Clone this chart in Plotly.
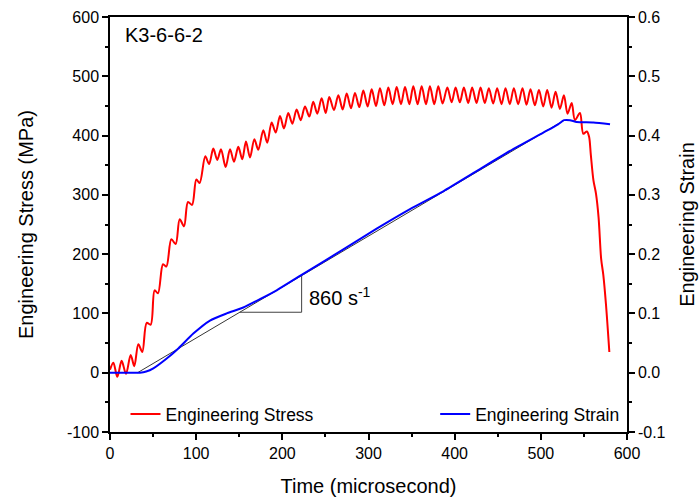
import plotly.graph_objects as go

# Engineering stress history (time in microseconds, stress in MPa)
stress_time = [0, 3.9, 8.5, 13.5, 18.6, 24, 28.2, 32.9, 37.5, 42.6, 47.2, 51.8, 55.7,
               61.5, 65.4, 71.2, 76.2, 80.9, 85.9, 90.5, 95.2, 100.2, 104, 110.6, 115,
               119.9, 124.5, 128.8, 134.2, 139.3, 143.9, 148.9, 153.5, 157.8, 162.5,
               167.5, 172.1, 177.9, 182.5, 187.6, 192.3, 197.3, 201.9, 206.9, 211.6,
               216.6, 221.3, 226.3, 231.3, 235.9, 240.6, 245.6, 250.3, 254.5, 259.9,
               265, 270, 274.7, 279.7, 284.3, 289.3, 294, 299, 303.7, 308.7, 313.3,
               318.3, 323, 328, 332.7, 337.7, 342.4, 347.4, 352, 357, 361.7, 366.7,
               371.3, 376.3, 381, 386, 391.5, 396.5, 401.1, 406, 410.7, 415.7, 420.3,
               425.4, 430, 435, 439.7, 444.7, 449.3, 454.4, 459, 464, 468.7, 473.7,
               478.7, 483.4, 488, 493.1, 497.8, 502.8, 507.4, 512.5, 517.1, 522.1,
               526.8, 531, 535.8, 539.6, 545.4, 549.3, 553.5, 556, 558, 561, 564, 567,
               570, 572.5, 575.6, 579.5]
stress_mpa = [5, 17, -7, 20, -2, 30, 11, 48, 35, 84, 81, 139, 134,
              183, 179, 225, 217, 259, 247, 288, 283, 326, 320, 365, 352,
              378, 359, 377, 347, 377, 356, 381, 360, 390, 363,
              394, 376, 409, 388, 422, 405, 433, 412, 438, 420,
              444, 426, 449, 432, 457, 437, 463, 438, 465, 443,
              468, 444, 471, 446, 472, 448, 476, 449, 478, 450, 480,
              451, 481, 453, 482, 453, 482, 453, 483, 453, 483, 453,
              483, 453, 483, 454, 481, 456, 481, 456, 481, 455, 481,
              455, 481, 455, 480, 454, 480, 453, 480, 453, 480, 453,
              480, 452, 478, 451, 477, 449, 477, 447, 474, 445,
              468, 437, 455, 426, 438, 403, 407, 398, 368, 325, 302, 262,
              192, 165, 115, 35]

# Engineering strain history
strain_time = [0, 20, 34.8, 42, 50.3, 65.8, 79.3, 96.7, 116, 135.4, 154.7, 174, 193.4,
               222.4, 270.8, 309.5, 348.2, 386.8, 425.5, 464.2, 502.9, 520, 526.9,
               533.8, 541.6, 560.9, 580.3]
strain = [0, 0, 0, 0.002, 0.0074, 0.024, 0.041, 0.066, 0.088, 0.100, 0.110, 0.124, 0.139,
          0.165, 0.208, 0.243, 0.276, 0.306, 0.340, 0.374, 0.405, 0.419, 0.426,
          0.426, 0.423, 0.422, 0.419]

# Linear fit of the strain history (strain rate 860 1/s) and its slope triangle
fit_time = [32, 527]
fit_strain = [0.0, 0.4257]
tri_time = [150.6, 222.4, 222.4]
tri_strain = [0.102, 0.102, 0.1637]

# Tick labels
x_ticks = [0, 100, 200, 300, 400, 500, 600]
x_labels = ["0", "100", "200", "300", "400", "500", "600"]
stress_ticks = [-100, 0, 100, 200, 300, 400, 500, 600]
stress_labels = ["-100", "0", "100", "200", "300", "400", "500", "600"]
strain_ticks = [-0.1, 0.0, 0.1, 0.2, 0.3, 0.4, 0.5, 0.6]
strain_labels = ["-0.1", "0.0", "0.1", "0.2", "0.3", "0.4", "0.5", "0.6"]

FONT = "Liberation Sans, Arial, sans-serif"

fig = go.Figure()
fig.add_trace(go.Scatter(x=fit_time, y=fit_strain, yaxis="y2", mode="lines",
                         line=dict(color="black", width=0.8), showlegend=False,
                         hoverinfo="skip"))
fig.add_trace(go.Scatter(x=tri_time, y=tri_strain, yaxis="y2", mode="lines",
                         line=dict(color="#404040", width=1), showlegend=False,
                         hoverinfo="skip"))
fig.add_trace(go.Scatter(x=stress_time, y=stress_mpa, mode="lines",
                         name="Engineering Stress", legend="legend",
                         line=dict(color="#ff0000", width=2, shape="spline", smoothing=0.9)))
fig.add_trace(go.Scatter(x=strain_time, y=strain, yaxis="y2", mode="lines",
                         name="Engineering Strain", legend="legend2",
                         line=dict(color="#0000ff", width=2, shape="spline", smoothing=0.6)))

axis_common = dict(showgrid=False, zeroline=False, showline=True, linecolor="black",
                   linewidth=1.5, ticks="outside", ticklen=6, tickwidth=1.5, automargin=False,
                   tickcolor="black", tickfont=dict(family=FONT, size=16, color="black"))

fig.update_layout(
    width=700, height=503,
    margin=dict(l=110, r=73, t=17, b=71),
    plot_bgcolor="white", paper_bgcolor="white",
    font=dict(family=FONT, color="black"),
    xaxis=dict(range=[0, 600], tickvals=x_ticks, ticktext=x_labels, mirror=True,
               minor=dict(dtick=50, ticklen=3, tickwidth=1.5, tickcolor="black", ticks="outside"),
               title=dict(text="Time (microsecond)", font=dict(family=FONT, size=20), standoff=18),
               **axis_common),
    yaxis=dict(range=[-100, 600], tickvals=stress_ticks, ticktext=stress_labels,
               minor=dict(dtick=50, ticklen=3, tickwidth=1.5, tickcolor="black", ticks="outside"),
               title=dict(text="Engineering Stress (MPa)", font=dict(family=FONT, size=20), standoff=28),
               **axis_common),
    yaxis2=dict(range=[-0.1, 0.6], tickvals=strain_ticks, ticktext=strain_labels,
                overlaying="y", side="right",
                minor=dict(dtick=0.05, ticklen=3, tickwidth=1.5, tickcolor="black", ticks="outside"),
                title=dict(text="Engineering Strain", font=dict(family=FONT, size=20), standoff=15),
                **axis_common),
    legend=dict(x=0.030, y=0.0, xanchor="left", yanchor="bottom", bgcolor="rgba(0,0,0,0)",
                font=dict(family=FONT, size=17.5)),
    legend2=dict(x=0.629, y=0.0, xanchor="left", yanchor="bottom", bgcolor="rgba(0,0,0,0)",
                 font=dict(family=FONT, size=17.5)),
    annotations=[
        dict(text="K3-6-6-2", x=0.025, y=0.957, xref="paper", yref="paper",
             xanchor="left", yanchor="middle", showarrow=False,
             font=dict(family=FONT, size=20)),
        dict(text="860 s<sup>-1</sup>", x=228.6, y=0.128, xref="x", yref="y2",
             xanchor="left", yanchor="middle", showarrow=False,
             font=dict(family=FONT, size=20)),
    ],
)

fig.write_html("out.html")
